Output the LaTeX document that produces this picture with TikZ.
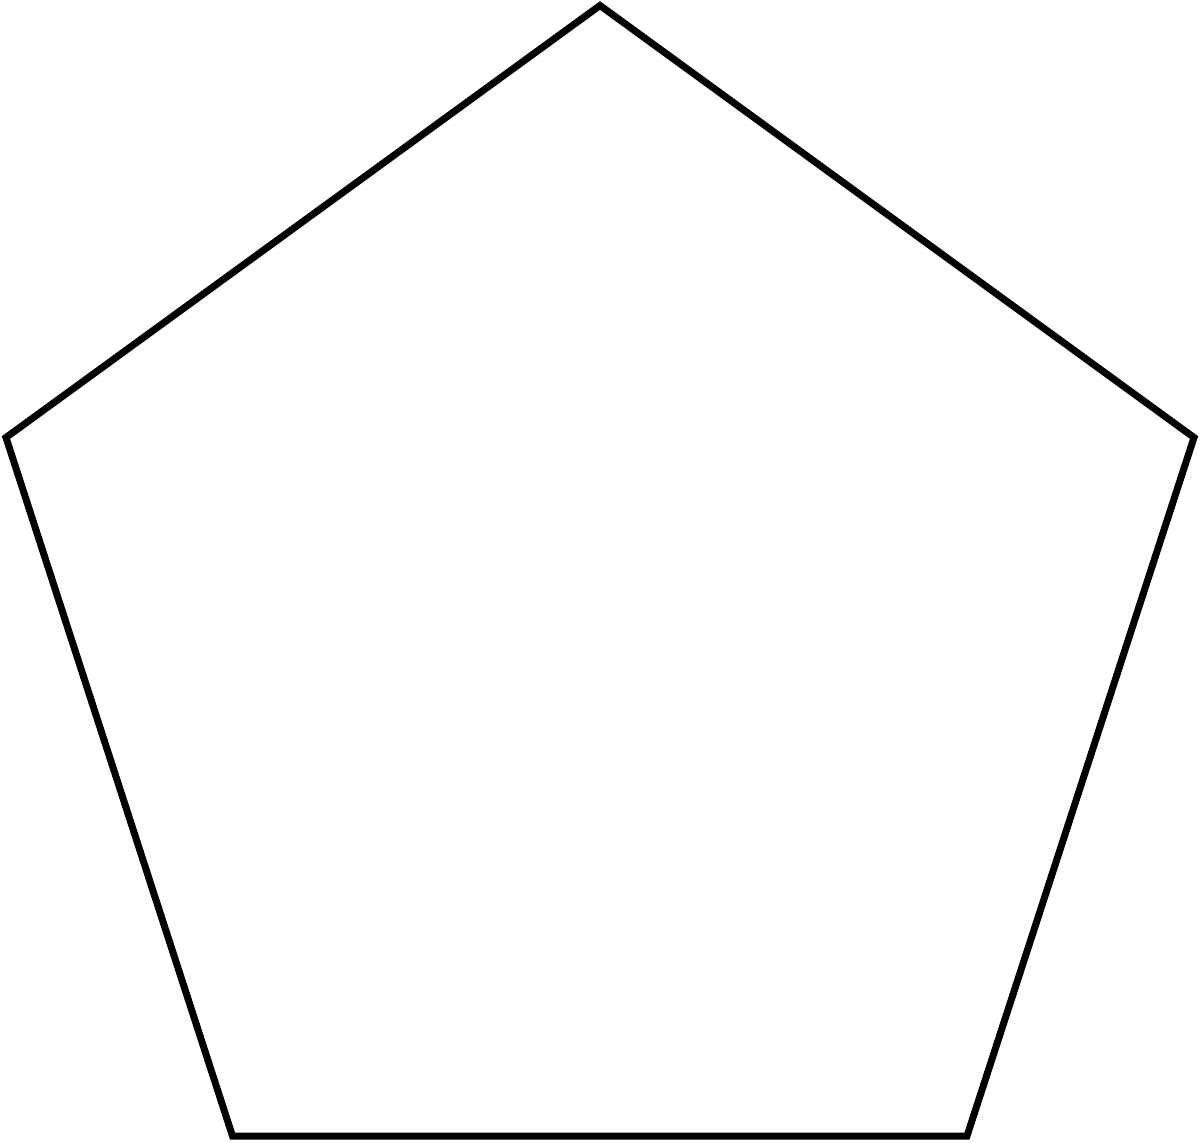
\documentclass[tikz,border=0pt]{standalone}
\begin{document}
\begin{tikzpicture}[x=1pt,y=-1pt,edge/.style={draw=black,line width=7pt,line join=miter}]
\useasboundingbox (0,0) rectangle (1200,1143);
\coordinate (t) at (600,5.5);
\coordinate (r) at (1194,437.5);
\coordinate (br) at (967,1136);
\coordinate (bl) at (232.5,1136);
\coordinate (l) at (6,437.5);
\draw[edge] (t) -- (r) -- (br) -- (bl) -- (l) -- cycle;
\end{tikzpicture}
\end{document}
